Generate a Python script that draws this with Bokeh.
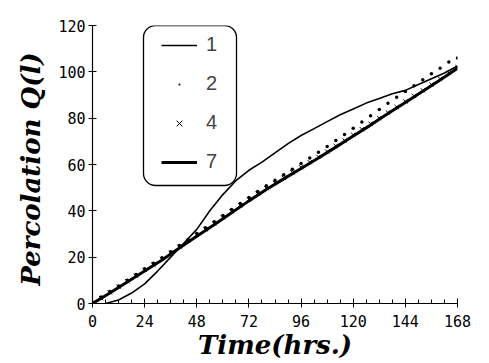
from bokeh.plotting import figure
from bokeh.models import Legend, LegendItem, BoxAnnotation, Label, SingleIntervalTicker, Range1d
from bokeh.embed import file_html
from bokeh.resources import INLINE

# Series 1 (thin line)
t1 = [6, 12, 18, 24, 30, 36, 42, 48, 54, 60, 66, 72, 78, 84, 90, 96, 102, 108,
      114, 120, 126, 132, 138, 144, 150, 156, 162, 168]
q1 = [0, 1.5, 4.5, 8.5, 14, 20, 26, 32, 40, 47, 53, 57.5, 61, 65, 69, 72.5, 75.5,
      78.5, 81.5, 84, 86.5, 88.5, 90.5, 92, 94.5, 97, 99.5, 102.5]

# Series 2 (dots) and 4 (crosses), every 4 h
t_pts = [0, 4, 8, 12, 16, 20, 24, 28, 32, 36, 40, 44, 48, 52, 56, 60, 64, 68, 72, 76,
         80, 84, 88, 92, 96, 100, 104, 108, 112, 116, 120, 124, 128, 132, 136, 140,
         144, 148, 152, 156, 160, 164, 168]
q2 = [0.5, 2.8, 5.2, 7.6, 10, 12.5, 15, 17.4, 19.8, 22.3, 25, 27.6, 30.2, 32.7, 35.3,
      38, 40.6, 43.2, 45.8, 48.3, 50.8, 53.2, 55.6, 58, 60.4, 62.8, 65.3, 67.8, 70.4,
      73, 75.6, 78.3, 81, 83.7, 86.4, 89, 91.5, 94, 96.6, 99.2, 101.6, 104.2, 106]
q4 = [0, 2.3, 4.8, 7.2, 9.6, 12, 14.5, 16.8, 19.2, 21.8, 24.5, 27, 29.6, 32, 34.6,
      37.2, 39.8, 42.4, 45, 47.4, 49.8, 52, 54.3, 56.6, 58.8, 61, 63.3, 65.6, 68, 70.4,
      72.8, 75.2, 77.6, 80, 82.4, 84.8, 87.2, 89.6, 92, 94.5, 97, 99.5, 102]

# Series 7 (thick line)
t7 = [0, 8, 16, 24, 32, 40, 48, 56, 64, 72, 80, 88, 96, 104, 112, 120, 128, 136, 144,
      152, 160, 168]
q7 = [0, 4.5, 9.3, 14, 18.8, 24, 29, 34, 39.2, 44.3, 49.2, 53.8, 58.3, 62.8, 67.5,
      72.3, 77, 82, 86.8, 91.6, 96.5, 101.5]

series_labels = ["1", "2", "4", "7"]
legend_title = "Watering Times"
x_label = "Time(hrs.)"
y_label = "Percolation  Q(l)"

p = figure(width=489, height=363, output_backend="svg", toolbar_location=None,
           x_range=Range1d(0, 168), y_range=Range1d(0, 120),
           min_border_left=92, min_border_right=32, min_border_top=25,
           min_border_bottom=60)
p.outline_line_color = None
p.grid.visible = False
p.background_fill_color = "white"
p.border_fill_color = "white"

r7 = p.line(t7, q7, line_color="black", line_width=3)
r1 = p.line(t1, q1, line_color="black", line_width=1.6)
r4 = p.scatter(t_pts, q4, marker="x", size=6, line_color="black", line_width=1)
r2 = p.scatter(t_pts, q2, marker="dot", size=14, fill_color="black", line_color="black")

xa = p.xaxis[0]
xa.ticker = SingleIntervalTicker(interval=24, num_minor_ticks=4)
xa.major_tick_in = 5
xa.major_tick_out = 4
xa.minor_tick_in = 4
xa.minor_tick_out = 0
xa.major_label_standoff = 7
xa.axis_label = x_label
xa.axis_label_standoff = 0

ya = p.yaxis[0]
ya.ticker = SingleIntervalTicker(interval=20, num_minor_ticks=0)
ya.major_tick_in = 4
ya.major_tick_out = 4
ya.minor_tick_in = 0
ya.minor_tick_out = 0
ya.major_label_standoff = 3
ya.axis_label = y_label
ya.axis_label_standoff = 9

for ax in (xa, ya):
    ax.axis_line_color = "black"
    ax.axis_line_width = 1.2
    ax.major_tick_line_color = "black"
    ax.minor_tick_line_color = "black"
    ax.major_label_text_font = "DejaVu Sans Mono"
    ax.major_label_text_font_size = "15px"
    ax.major_label_text_color = "black"
    ax.axis_label_text_font = "DejaVu Serif"
    ax.axis_label_text_font_style = "bold italic"
    ax.axis_label_text_font_size = "26px"
    ax.axis_label_text_color = "black"

legend = Legend(items=[LegendItem(label=series_labels[0], renderers=[r1]),
                       LegendItem(label=series_labels[1], renderers=[r2]),
                       LegendItem(label=series_labels[2], renderers=[r4]),
                       LegendItem(label=series_labels[3], renderers=[r7])],
                location=(69, 130), padding=0, margin=0, spacing=16,
                glyph_width=36, glyph_height=20, label_height=20, label_standoff=9,
                border_line_alpha=0, background_fill_alpha=0,
                label_text_font="Liberation Sans", label_text_font_size="20px")
p.add_layout(legend, "center")

box = BoxAnnotation(left=51, right=144, top=278, bottom=118,
                    left_units="screen", right_units="screen",
                    top_units="screen", bottom_units="screen",
                    fill_alpha=0, line_color="black", line_alpha=1, line_width=1.3,
                    border_radius=12)
p.add_layout(box)

title = Label(x=47, y=287, x_units="screen", y_units="screen", text=legend_title,
              text_font="Liberation Sans", text_font_style="bold",
              text_font_size="17px", text_baseline="middle", text_color="black")
p.add_layout(title)

open("out.html", "w").write(file_html(p, INLINE))
